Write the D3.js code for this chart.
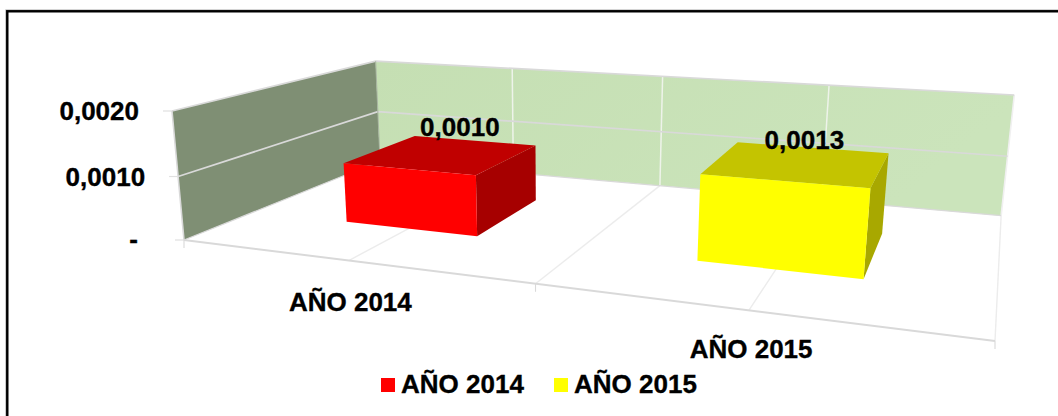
<!DOCTYPE html>
<html>
<head>
<meta charset="utf-8">
<script src="https://cdn.jsdelivr.net/npm/d3@7/dist/d3.min.js"></script>
<style>
html,body{margin:0;padding:0;background:#fff;overflow:hidden}
svg{display:block}
text{font-family:"Liberation Sans",Arial,sans-serif;font-weight:bold;fill:#000;stroke:#000;stroke-width:.35px}
</style>
</head>
<body>
<svg id="chart" width="1058" height="416"></svg>
<script>
// ---- data ----
const categories = ["AÑO 2014", "AÑO 2015"];
const values = [0.00097, 0.00128];
const seriesColors = ["#ff0000", "#ffff00"];
const topColors = ["#c00000", "#c4c400"];
const sideColors = ["#a60000", "#a8a800"];
const valueTicks = [0, 0.001, 0.002];

// ---- layout: the chart's 3D box as seen on screen ----
const O = [184, 240], X = [995, 341], Y = [380, 161], Z = [172, 111];
const weights = {x: 0.765, y: 1.308, z: 0.969};
const col = (P, s) => [s * P[0] - O[0], s * P[1] - O[1], s - 1];
const cx = col(X, weights.x), cy = col(Y, weights.y), cz = col(Z, weights.z);
function project(u, w, h) {
  const d = u * cx[2] + w * cy[2] + h * cz[2] + 1;
  return [(u * cx[0] + w * cy[0] + h * cz[0] + O[0]) / d,
          (u * cx[1] + w * cy[1] + h * cz[1] + O[1]) / d];
}

// ---- scales ----
const uScale = d3.scaleBand().domain(categories).range([0.003, 1.003]).paddingInner(0.6).paddingOuter(0.3);
const uOuter = d3.scaleLinear().domain([0, categories.length]).range([0, 1]);
const hScale = d3.scaleLinear().domain([0, 0.002]).range([0, 1]);
const depth = d3.scaleLinear().domain([0, 1]).range([0.3, 0.7]);

const loc = d3.formatLocale({decimal: ",", thousands: ".", grouping: [3], currency: ["", ""]});
const fmt = loc.format(".4f");
const tickFmt = v => v === 0 ? "-" : fmt(v);

const svg = d3.select("#chart");
const line = d3.line();
const poly = pts => line(pts) + "Z";
const FS = 26;

// border (top and left only)
svg.append("path").attr("d", "M7.2,416V11.2H1058").attr("fill", "none").attr("stroke", "#000").attr("stroke-width", 2.6);
svg.append("path").attr("d", "M5.6,416V9.6H1058").attr("fill", "none").attr("stroke", "#bbb").attr("stroke-width", 0.7);

// gradient for back wall
const defs = svg.append("defs");
const g = defs.append("linearGradient").attr("id", "backWall").attr("x1", 0).attr("x2", 1).attr("y1", 0).attr("y2", 0.3);
g.append("stop").attr("offset", 0).attr("stop-color", "#c5dfb3");
g.append("stop").attr("offset", 1).attr("stop-color", "#cbe4bb");

// walls
svg.append("path").attr("d", poly([project(0,0,0), project(0,1,0), project(0,1,1), project(0,0,1)])).attr("fill", "#7f8f74");
svg.append("path").attr("d", poly([project(0,1,0), project(1,1,0), project(1,1,1), project(0,1,1)])).attr("fill", "url(#backWall)");

// floor grid lines
[0.5, 1, 1.5, 2].forEach(c => {
  const u = uOuter(c);
  svg.append("path").attr("d", line([project(u,0,0), project(u,1,0)])).attr("stroke", "#ececec").attr("stroke-width", 1.4).attr("fill", "none");
});
// back-wall vertical grid lines
[0.5, 1, 1.5].forEach(c => {
  const u = uOuter(c);
  svg.append("path").attr("d", line([project(u,1,0), project(u,1,1)])).attr("stroke", "#eef3ea").attr("stroke-width", 1.5).attr("fill", "none");
});
// right edge of back wall
svg.append("path").attr("d", line([project(1,1,0), project(1,1,1)])).attr("stroke", "#f0f0f0").attr("stroke-width", 1.6).attr("fill", "none");

// horizontal gridlines
valueTicks.forEach(v => {
  const h = hScale(v);
  svg.append("path").attr("d", line([project(0,0,h), project(0,1,h), project(1,1,h)]))
    .attr("stroke", "#d9d9d9").attr("stroke-width", v === 0 ? 1.2 : 1.7).attr("fill", "none");
});
// left wall verticals
svg.append("path").attr("d", line([project(0,0,0), project(0,0,1)])).attr("stroke", "#d9d9d9").attr("stroke-width", 1.6).attr("fill", "none");
svg.append("path").attr("d", line([project(0,1,0), project(0,1,1)])).attr("stroke", "#a8b5a0").attr("stroke-width", 1).attr("fill", "none");

// floor front edge
svg.append("path").attr("d", line([project(0,0,0), project(1,0,0)])).attr("stroke", "#d9d9d9").attr("stroke-width", 2).attr("fill", "none");

// axis ticks
valueTicks.forEach(v => {
  const p = project(0,0,hScale(v));
  svg.append("path").attr("d", line([[p[0]-9,p[1]], p])).attr("stroke", "#e0e0e0").attr("stroke-width", 1.2);
});
[0, 1, 2].forEach(c => {
  const p = project(uOuter(c),0,0);
  svg.append("path").attr("d", line([p, [p[0],p[1]+8]])).attr("stroke", "#d9d9d9").attr("stroke-width", 1.1);
});

// value axis labels
svg.append("g").selectAll("text").data(valueTicks).join("text")
  .attr("x", d => project(0,0,hScale(d))[0] - (d === 0 ? 46 : 33))
  .attr("y", d => project(0,0,hScale(d))[1] + (d === 0 ? 8 : 9))
  .attr("text-anchor", "end").attr("font-size", FS).text(tickFmt);

// bars
const bars = svg.append("g").selectAll("g").data(categories).join("g");
bars.each(function(c, i) {
  const u0 = uScale(c), u1 = u0 + uScale.bandwidth();
  const w0 = depth(0), w1 = depth(1), h = hScale(values[i]);
  const s = d3.select(this);
  s.append("path").attr("d", poly([project(u1,w0,0), project(u1,w1,0), project(u1,w1,h), project(u1,w0,h)])).attr("fill", sideColors[i]);
  s.append("path").attr("d", poly([project(u0,w0,h), project(u1,w0,h), project(u1,w1,h), project(u0,w1,h)])).attr("fill", topColors[i]);
  s.append("path").attr("d", poly([project(u0,w0,0), project(u1,w0,0), project(u1,w0,h), project(u0,w0,h)])).attr("fill", seriesColors[i]);
});

// value labels
const labelOffset = [[-14, -5], [-7, 1]];
svg.append("g").selectAll("text").data(categories).join("text")
  .attr("x", (c, i) => project(uScale(c) + uScale.bandwidth()/2, depth(1), hScale(values[i]))[0] + labelOffset[i][0])
  .attr("y", (c, i) => project(uScale(c) + uScale.bandwidth()/2, depth(1), hScale(values[i]))[1] + labelOffset[i][1])
  .attr("text-anchor", "middle").attr("font-size", FS).text((c, i) => fmt(values[i]));

// category labels
svg.append("g").selectAll("text").data(categories).join("text")
  .attr("x", c => project(uScale(c) + uScale.bandwidth()/2, 0, 0)[0] - 0.5)
  .attr("y", (c, i) => project(uScale(c) + uScale.bandwidth()/2, 0, 0)[1] + (i ? 47 : 50))
  .attr("text-anchor", "middle").attr("font-size", FS).text(c => c);

// legend
const legendX = d3.scalePoint().domain(categories).range([381, 554]);
const leg = svg.append("g").selectAll("g").data(categories).join("g")
  .attr("transform", c => `translate(${legendX(c)},0)`);
leg.append("rect").attr("x", 0).attr("y", 378).attr("width", 14).attr("height", 14).attr("fill", (c, i) => seriesColors[i]);
leg.append("text").attr("x", 20).attr("y", 393).attr("font-size", FS).text(c => c);
</script>
</body>
</html>
